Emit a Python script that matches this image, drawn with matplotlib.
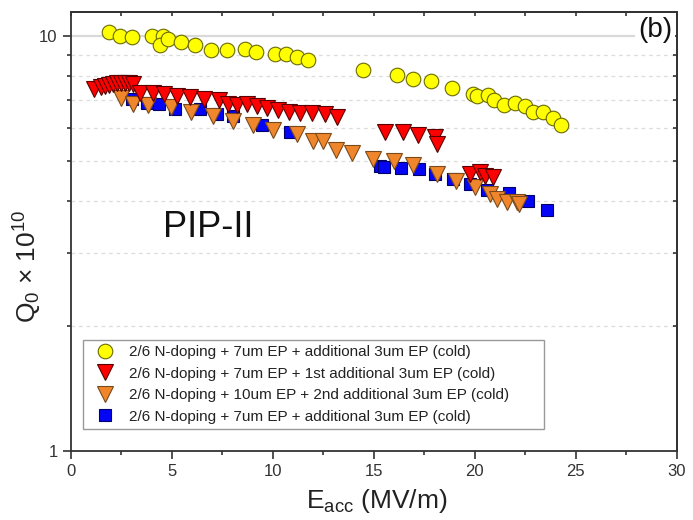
import matplotlib
matplotlib.use("Agg")
import matplotlib.pyplot as plt
from matplotlib.ticker import FixedLocator, NullFormatter, FixedFormatter

plt.rcParams['font.family'] = ['Liberation Sans', 'DejaVu Sans']
plt.rcParams['mathtext.default'] = 'regular'

# ---- data ----
yellow_E = [1.90, 2.44, 3.05, 4.01, 4.55, 4.42, 4.80, 5.46, 6.15, 6.93, 7.75, 8.63, 9.16,
            10.11, 10.66, 11.22, 11.75, 14.49, 16.17, 16.96, 17.84, 18.86, 19.93, 20.13,
            20.64, 20.96, 21.45, 22.0, 22.5, 22.9, 23.4, 23.86, 24.29]
yellow_Q = [10.2, 10.0, 9.92, 9.97, 10.0, 9.51, 9.80, 9.66, 9.51, 9.24, 9.22, 9.30, 9.15,
            9.05, 9.05, 8.88, 8.76, 8.28, 8.04, 7.87, 7.78, 7.48, 7.24, 7.17,
            7.20, 6.98, 6.82, 6.87, 6.76, 6.54, 6.54, 6.33, 6.10]

red_E = [1.15, 1.5, 1.7, 1.9, 2.1, 2.3, 2.5, 2.7, 2.9, 3.1, 3.43, 4.06, 4.62, 5.25, 5.91,
         6.6, 7.36, 7.80, 8.22, 8.71, 9.21, 9.70, 10.28, 10.82, 11.35, 11.93, 12.59,
         13.17, 15.56, 16.43, 17.18, 18.03, 18.12, 19.77, 20.26, 20.51, 20.89]
red_Q = [7.42, 7.52, 7.58, 7.62, 7.66, 7.68, 7.70, 7.70, 7.68, 7.66, 7.27, 7.27, 7.24, 7.17,
         7.11, 7.04, 6.98, 6.85, 6.79, 6.85, 6.76, 6.71, 6.64, 6.56, 6.51, 6.51, 6.47,
         6.36, 5.87, 5.86, 5.75, 5.69, 5.47, 4.64, 4.69, 4.60, 4.56]

orange_E = [2.48, 3.10, 3.84, 4.97, 5.96, 7.06, 8.02, 9.04, 10.03, 11.19, 12.01, 12.50,
            13.13, 13.91, 14.98, 16.0, 16.96, 18.12, 19.07, 20.01, 20.76, 21.12, 21.58,
            22.08, 22.21]
orange_Q = [7.07, 6.85, 6.81, 6.73, 6.56, 6.42, 6.24, 6.10, 5.93, 5.80, 5.59, 5.57,
            5.31, 5.22, 5.05, 5.00, 4.89, 4.64, 4.47, 4.31, 4.15, 4.04, 3.97,
            3.98, 3.93]

blue_E = [3.02, 3.79, 4.39, 5.16, 6.40, 7.23, 8.05, 9.46, 10.86, 15.31, 15.51, 16.34,
          17.24, 18.03, 18.91, 19.77, 20.60, 21.71, 22.65, 23.59]
blue_Q = [7.04, 6.88, 6.85, 6.66, 6.66, 6.48, 6.42, 6.10, 5.86, 4.86, 4.83, 4.79,
          4.77, 4.64, 4.52, 4.39, 4.25, 4.19, 4.00, 3.81]

labels = ["2/6 N-doping + 7um EP + additional 3um EP (cold)",
          "2/6 N-doping + 7um EP + 1st additional 3um EP (cold)",
          "2/6 N-doping + 10um EP + 2nd additional 3um EP (cold)       ",
          "2/6 N-doping + 7um EP + additional 3um EP (cold)"]

x_ticks = [0, 5, 10, 15, 20, 25, 30]
y_major = [1, 10]
y_minor = [2, 3, 4, 5, 6, 7, 8, 9]

# ---- figure ----
fig = plt.figure(figsize=(6.93, 5.2), dpi=100)
ax = fig.add_axes([70.7/693, 1-451/520, 606/693, 439/520])
ax.set_yscale('log')
ax.set_xlim(0, 30)
ax.set_ylim(1, 11.4)

# grid
for v in y_minor:
    ax.axhline(v, color='#dcdcdc', lw=0.9, ls=(0, (3, 3)), zorder=0)
ax.axhline(10, color='#d9d9d9', lw=1.6, zorder=0)

hb, = ax.plot(blue_E, blue_Q, ls='none', marker='s', ms=9.2, mfc='#0505f5', mec='#00006a', mew=0.8, zorder=3)
ho, = ax.plot(orange_E, orange_Q, ls='none', marker='v', ms=11, mfc='#f0862c', mec='#7a4a1a', mew=0.8, zorder=4)
hr, = ax.plot(red_E, red_Q, ls='none', marker='v', ms=11, mfc='#ff0000', mec='#5a0000', mew=0.8, zorder=5)
hy, = ax.plot(yellow_E, yellow_Q, ls='none', marker='o', ms=10.5, mfc='#ffff00', mec='#6a6a00', mew=0.8, zorder=6)

# ticks
ax.xaxis.set_major_locator(FixedLocator(x_ticks))
ax.xaxis.set_minor_locator(FixedLocator([2.5, 7.5, 12.5, 17.5, 22.5, 27.5]))
ax.yaxis.set_major_locator(FixedLocator(y_major))
ax.yaxis.set_major_formatter(FixedFormatter([str(v) for v in y_major]))
ax.yaxis.set_minor_locator(FixedLocator(y_minor))
ax.yaxis.set_minor_formatter(NullFormatter())
ax.tick_params(which='major', direction='out', length=5.5, width=1.1, labelsize=12, pad=4, colors='#222222')
ax.tick_params(which='minor', direction='out', length=3, width=1.1, colors='#222222')
ax.tick_params(axis='both', labelcolor='#333333')

secx = ax.secondary_xaxis('top')
secx.xaxis.set_major_locator(FixedLocator([0, 2.5, 5, 7.5, 10, 12.5, 15, 17.5, 20, 22.5, 25, 27.5, 30]))
secx.tick_params(direction='in', length=3, width=1.1, labeltop=False, colors='#222222')
secy = ax.secondary_yaxis('right')
secy.yaxis.set_major_locator(FixedLocator(y_minor + [10]))
secy.yaxis.set_minor_locator(FixedLocator([]))
secy.tick_params(which='both', direction='in', length=3, width=1.1, labelright=False, colors='#222222')
for s in list(ax.spines.values()) + list(secx.spines.values()) + list(secy.spines.values()):
    s.set_linewidth(1.3)
    s.set_color('#333333')

ax.set_xlabel('E$_{acc}$ (MV/m)', fontsize=19, color='#222222')
ax.xaxis.set_label_coords(0.505, -0.083)
ax.set_ylabel('Q$_0$ × 10$^{10}$', fontsize=19, color='#222222')
ax.yaxis.set_label_coords(-0.044, 0.42)

ax.text(4.57, 3.27, 'PIP-II', fontsize=26, ha='left', va='baseline', color='#111111', zorder=7)
ax.text(29.77, 10.3, '(b)', fontsize=20, ha='right', va='center', color='#111111', zorder=1,
        bbox=dict(boxstyle='square,pad=0.12', fc='white', ec='none'))

leg = ax.legend([hy, hr, ho, hb], labels, loc='lower left', bbox_to_anchor=(12.3/606, 22/439),
                borderaxespad=0, fontsize=11, frameon=True, fancybox=False, framealpha=1,
                edgecolor='#999999', handlelength=2.2, handletextpad=0.45, labelspacing=0.49,
                borderpad=0.34)
leg.get_frame().set_linewidth(1.0)
for t in leg.get_texts():
    t.set_color('#222222')
leg.set_zorder(10)

fig.savefig('out.png', dpi=100)
